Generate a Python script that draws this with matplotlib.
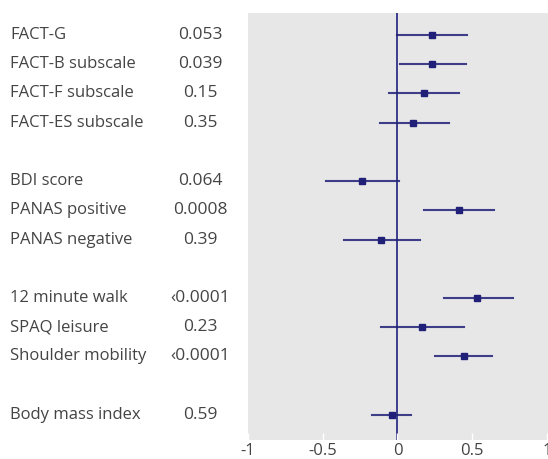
import numpy as np
from matplotlib import pyplot as plt
from matplotlib import transforms

plt.rcParams['font.family'] = ['Open Sans', 'DejaVu Sans']

labels = ['FACT-G', 'FACT-B subscale', 'FACT-F subscale', 'FACT-ES subscale',
          'BDI score', 'PANAS positive', 'PANAS negative',
          '12 minute walk', 'SPAQ leisure', 'Shoulder mobility',
          'Body mass index']
p_values = ['0.053', '0.039', '0.15', '0.35',
            '0.064', '0.0008', '0.39',
            '\u20390.0001', '0.23', '\u20390.0001',
            '0.59']
effect = [0.233, 0.233, 0.18, 0.105,
          -0.24, 0.41, -0.11,
          0.535, 0.166, 0.443,
          -0.036]
ci_low = [0.0, 0.02, -0.058, -0.116,
          -0.48, 0.18, -0.355,
          0.309, -0.11, 0.25,
          -0.17]
ci_high = [0.468, 0.456, 0.41, 0.347,
           0.01, 0.645, 0.15,
           0.774, 0.443, 0.631,
           0.092]
rows = [0, 1, 2, 3, 5, 6, 7, 9, 10, 11, 13]
x_ticks = [-1, -0.5, 0, 0.5, 1]
x_ticklabels = ['-1', '-0.5', '0', '0.5', '1']

TEXT = '#444444'
NAVY = '#202078'

fig = plt.figure(figsize=(5.48, 4.59), dpi=100)
ax = fig.add_axes([248 / 548, 19.5 / 459, 300 / 548, 426.5 / 459])
ax.set_facecolor('#e7e7e7')
for s in ax.spines.values():
    s.set_visible(False)

ax.axvline(0, color='#3d3d8f', lw=1.4, zorder=1)
for r, e, lo, hi in zip(rows, effect, ci_low, ci_high):
    ax.plot([lo, hi], [r, r], color=NAVY, lw=1.5, alpha=0.85, zorder=2)
    ax.plot(e, r, 's', color=NAVY, markersize=4.6, zorder=3)

ax.set_xlim(-1, 1.0067)
ax.set_ylim(13.84, -0.75)
ax.set_yticks([])
ax.set_xticks(x_ticks)
ax.set_xticklabels(x_ticklabels, fontsize=12, color=TEXT)
ax.tick_params(axis='x', direction='in', length=5, color='white', width=1, pad=2.5)

trans_lab = transforms.blended_transform_factory(fig.transFigure, ax.transData)
for r, lab, p in zip(rows, labels, p_values):
    ax.text(10 / 548, r, lab, transform=trans_lab, ha='left', va='center',
            fontsize=12, color=TEXT, clip_on=False)
    ax.text(200 / 548, r, p, transform=trans_lab, ha='center', va='center',
            fontsize=12.5, color=TEXT, clip_on=False)

fig.savefig('out.png', dpi=100)
